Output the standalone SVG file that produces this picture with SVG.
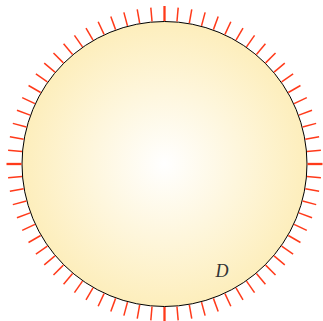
<svg xmlns="http://www.w3.org/2000/svg" width="323" height="321" viewBox="0 0 323 321">
<defs>
<radialGradient id="g" cx="0.5" cy="0.5" r="0.5">
<stop offset="0" stop-color="#ffffff"/>
<stop offset="1" stop-color="#fdeebc"/>
</radialGradient>
<style>
.t{stroke:#ff3a1a;stroke-width:1.5}
.tc{stroke:#ff3a1a;stroke-width:2.3}
</style>
</defs>
<g id="disc">
<circle cx="164.5" cy="164" r="142.5" fill="url(#g)" stroke="#000" stroke-width="1"/>
</g>
<g id="ticks">
<line class="tc" x1="164.5" y1="21" x2="164.5" y2="6" transform="rotate(0 164.5 164)"/>
<line class="t" x1="164.5" y1="21" x2="164.5" y2="7" transform="rotate(5 164.5 164)"/>
<line class="t" x1="164.5" y1="21" x2="164.5" y2="7" transform="rotate(10 164.5 164)"/>
<line class="t" x1="164.5" y1="21" x2="164.5" y2="7" transform="rotate(15 164.5 164)"/>
<line class="t" x1="164.5" y1="21" x2="164.5" y2="7" transform="rotate(20 164.5 164)"/>
<line class="t" x1="164.5" y1="21" x2="164.5" y2="7" transform="rotate(25 164.5 164)"/>
<line class="t" x1="164.5" y1="21" x2="164.5" y2="7" transform="rotate(30 164.5 164)"/>
<line class="t" x1="164.5" y1="21" x2="164.5" y2="7" transform="rotate(35 164.5 164)"/>
<line class="t" x1="164.5" y1="21" x2="164.5" y2="7" transform="rotate(40 164.5 164)"/>
<line class="t" x1="164.5" y1="21" x2="164.5" y2="7" transform="rotate(45 164.5 164)"/>
<line class="t" x1="164.5" y1="21" x2="164.5" y2="7" transform="rotate(50 164.5 164)"/>
<line class="t" x1="164.5" y1="21" x2="164.5" y2="7" transform="rotate(55 164.5 164)"/>
<line class="t" x1="164.5" y1="21" x2="164.5" y2="7" transform="rotate(60 164.5 164)"/>
<line class="t" x1="164.5" y1="21" x2="164.5" y2="7" transform="rotate(65 164.5 164)"/>
<line class="t" x1="164.5" y1="21" x2="164.5" y2="7" transform="rotate(70 164.5 164)"/>
<line class="t" x1="164.5" y1="21" x2="164.5" y2="7" transform="rotate(75 164.5 164)"/>
<line class="t" x1="164.5" y1="21" x2="164.5" y2="7" transform="rotate(80 164.5 164)"/>
<line class="t" x1="164.5" y1="21" x2="164.5" y2="7" transform="rotate(85 164.5 164)"/>
<line class="tc" x1="164.5" y1="21" x2="164.5" y2="6" transform="rotate(90 164.5 164)"/>
<line class="t" x1="164.5" y1="21" x2="164.5" y2="7" transform="rotate(95 164.5 164)"/>
<line class="t" x1="164.5" y1="21" x2="164.5" y2="7" transform="rotate(100 164.5 164)"/>
<line class="t" x1="164.5" y1="21" x2="164.5" y2="7" transform="rotate(105 164.5 164)"/>
<line class="t" x1="164.5" y1="21" x2="164.5" y2="7" transform="rotate(110 164.5 164)"/>
<line class="t" x1="164.5" y1="21" x2="164.5" y2="7" transform="rotate(115 164.5 164)"/>
<line class="t" x1="164.5" y1="21" x2="164.5" y2="7" transform="rotate(120 164.5 164)"/>
<line class="t" x1="164.5" y1="21" x2="164.5" y2="7" transform="rotate(125 164.5 164)"/>
<line class="t" x1="164.5" y1="21" x2="164.5" y2="7" transform="rotate(130 164.5 164)"/>
<line class="t" x1="164.5" y1="21" x2="164.5" y2="7" transform="rotate(135 164.5 164)"/>
<line class="t" x1="164.5" y1="21" x2="164.5" y2="7" transform="rotate(140 164.5 164)"/>
<line class="t" x1="164.5" y1="21" x2="164.5" y2="7" transform="rotate(145 164.5 164)"/>
<line class="t" x1="164.5" y1="21" x2="164.5" y2="7" transform="rotate(150 164.5 164)"/>
<line class="t" x1="164.5" y1="21" x2="164.5" y2="7" transform="rotate(155 164.5 164)"/>
<line class="t" x1="164.5" y1="21" x2="164.5" y2="7" transform="rotate(160 164.5 164)"/>
<line class="t" x1="164.5" y1="21" x2="164.5" y2="7" transform="rotate(165 164.5 164)"/>
<line class="t" x1="164.5" y1="21" x2="164.5" y2="7" transform="rotate(170 164.5 164)"/>
<line class="t" x1="164.5" y1="21" x2="164.5" y2="7" transform="rotate(175 164.5 164)"/>
<line class="tc" x1="164.5" y1="21" x2="164.5" y2="6" transform="rotate(180 164.5 164)"/>
<line class="t" x1="164.5" y1="21" x2="164.5" y2="7" transform="rotate(185 164.5 164)"/>
<line class="t" x1="164.5" y1="21" x2="164.5" y2="7" transform="rotate(190 164.5 164)"/>
<line class="t" x1="164.5" y1="21" x2="164.5" y2="7" transform="rotate(195 164.5 164)"/>
<line class="t" x1="164.5" y1="21" x2="164.5" y2="7" transform="rotate(200 164.5 164)"/>
<line class="t" x1="164.5" y1="21" x2="164.5" y2="7" transform="rotate(205 164.5 164)"/>
<line class="t" x1="164.5" y1="21" x2="164.5" y2="7" transform="rotate(210 164.5 164)"/>
<line class="t" x1="164.5" y1="21" x2="164.5" y2="7" transform="rotate(215 164.5 164)"/>
<line class="t" x1="164.5" y1="21" x2="164.5" y2="7" transform="rotate(220 164.5 164)"/>
<line class="t" x1="164.5" y1="21" x2="164.5" y2="7" transform="rotate(225 164.5 164)"/>
<line class="t" x1="164.5" y1="21" x2="164.5" y2="7" transform="rotate(230 164.5 164)"/>
<line class="t" x1="164.5" y1="21" x2="164.5" y2="7" transform="rotate(235 164.5 164)"/>
<line class="t" x1="164.5" y1="21" x2="164.5" y2="7" transform="rotate(240 164.5 164)"/>
<line class="t" x1="164.5" y1="21" x2="164.5" y2="7" transform="rotate(245 164.5 164)"/>
<line class="t" x1="164.5" y1="21" x2="164.5" y2="7" transform="rotate(250 164.5 164)"/>
<line class="t" x1="164.5" y1="21" x2="164.5" y2="7" transform="rotate(255 164.5 164)"/>
<line class="t" x1="164.5" y1="21" x2="164.5" y2="7" transform="rotate(260 164.5 164)"/>
<line class="t" x1="164.5" y1="21" x2="164.5" y2="7" transform="rotate(265 164.5 164)"/>
<line class="tc" x1="164.5" y1="21" x2="164.5" y2="6" transform="rotate(270 164.5 164)"/>
<line class="t" x1="164.5" y1="21" x2="164.5" y2="7" transform="rotate(275 164.5 164)"/>
<line class="t" x1="164.5" y1="21" x2="164.5" y2="7" transform="rotate(280 164.5 164)"/>
<line class="t" x1="164.5" y1="21" x2="164.5" y2="7" transform="rotate(285 164.5 164)"/>
<line class="t" x1="164.5" y1="21" x2="164.5" y2="7" transform="rotate(290 164.5 164)"/>
<line class="t" x1="164.5" y1="21" x2="164.5" y2="7" transform="rotate(295 164.5 164)"/>
<line class="t" x1="164.5" y1="21" x2="164.5" y2="7" transform="rotate(300 164.5 164)"/>
<line class="t" x1="164.5" y1="21" x2="164.5" y2="7" transform="rotate(305 164.5 164)"/>
<line class="t" x1="164.5" y1="21" x2="164.5" y2="7" transform="rotate(310 164.5 164)"/>
<line class="t" x1="164.5" y1="21" x2="164.5" y2="7" transform="rotate(315 164.5 164)"/>
<line class="t" x1="164.5" y1="21" x2="164.5" y2="7" transform="rotate(320 164.5 164)"/>
<line class="t" x1="164.5" y1="21" x2="164.5" y2="7" transform="rotate(325 164.5 164)"/>
<line class="t" x1="164.5" y1="21" x2="164.5" y2="7" transform="rotate(330 164.5 164)"/>
<line class="t" x1="164.5" y1="21" x2="164.5" y2="7" transform="rotate(335 164.5 164)"/>
<line class="t" x1="164.5" y1="21" x2="164.5" y2="7" transform="rotate(340 164.5 164)"/>
<line class="t" x1="164.5" y1="21" x2="164.5" y2="7" transform="rotate(345 164.5 164)"/>
<line class="t" x1="164.5" y1="21" x2="164.5" y2="7" transform="rotate(350 164.5 164)"/>
<line class="t" x1="164.5" y1="21" x2="164.5" y2="7" transform="rotate(355 164.5 164)"/>
</g>
<g id="label">
<text x="222" y="277" font-family="Liberation Serif, serif" font-style="italic" font-size="18" fill="#333" text-anchor="middle">D</text>
</g>
</svg>
